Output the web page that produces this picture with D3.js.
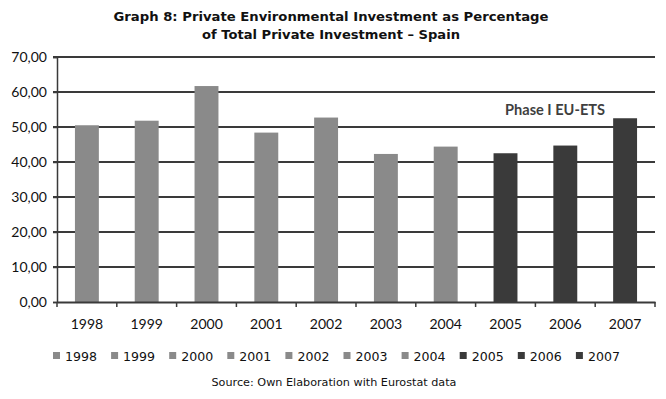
<!DOCTYPE html>
<html>
<head>
<meta charset="utf-8">
<script src="https://cdn.jsdelivr.net/npm/d3@7"></script>
<style>
  html, body { margin: 0; padding: 0; background: #fff; }
  svg { display: block; }
</style>
</head>
<body>
<svg id="chart" width="666" height="399"></svg>
<script>
(function () {
// ---- Data ----
const years = ["1998","1999","2000","2001","2002","2003","2004","2005","2006","2007"];
const values = [50.5, 51.8, 61.7, 48.4, 52.7, 42.3, 44.4, 42.5, 44.7, 52.5];
const phase = ["pre","pre","pre","pre","pre","pre","pre","ets","ets","ets"];
const yTicks = [0, 10, 20, 30, 40, 50, 60, 70];
const titleLines = ["Graph 8: Private Environmental Investment as Percentage", "of Total Private Investment \u2013 Spain"];
const annotation = "Phase I EU-ETS";
const sourceText = "Source: Own Elaboration with Eurostat data";

const colors = { pre: "#8a8a8a", ets: "#3a3a3a" };

const svg = d3.select("#chart");
const mLeft = 57, mRight = 655, mTop = 57, mBottom = 302;

const x = d3.scaleBand().domain(years).range([mLeft, mRight]).paddingInner(0.6).paddingOuter(0.3);
const y = d3.scaleLinear().domain([0, 70]).range([mBottom, mTop]);
const locale = d3.formatLocale({ decimal: ",", thousands: ".", grouping: [3], currency: ["", "€"] });
const fmt = locale.format(".2f");

// Title
svg.selectAll("text.title").data(titleLines).join("text")
  .attr("class", "title")
  .attr("x", 331).attr("y", (d, i) => 20.5 + i * 18)
  .attr("text-anchor", "middle")
  .attr("font-family", "DejaVu Sans").attr("font-weight", "bold").attr("font-size", 12.5)
  .attr("fill", "#111")
  .attr("textLength", (d, i) => i === 0 ? 435 : 258)
  .attr("lengthAdjust", "spacingAndGlyphs")
  .text(d => d);

// Gridlines
svg.append("g")
  .selectAll("line").data(yTicks.filter(t => t > 0)).join("line")
  .attr("x1", mLeft - 4).attr("x2", mRight)
  .attr("y1", d => y(d)).attr("y2", d => y(d))
  .attr("stroke", "#3a3a3a").attr("stroke-width", 2);

// Y axis
const yAxis = svg.append("g").attr("transform", `translate(${mLeft},0)`)
  .call(d3.axisLeft(y).tickValues(yTicks).tickFormat(fmt).tickSize(4).tickPadding(6));
yAxis.select(".domain").attr("stroke", "#3a3a3a").attr("stroke-width", 1.5);
yAxis.selectAll(".tick line").attr("stroke", "#3a3a3a").attr("stroke-width", 1.5);
yAxis.selectAll(".tick text").attr("font-family", "Lato").attr("font-size", 14).attr("fill", "#111");

// Bars
svg.append("g").selectAll("rect").data(years).join("rect")
  .attr("x", d => x(d))
  .attr("width", x.bandwidth())
  .attr("y", (d, i) => y(values[i]))
  .attr("height", (d, i) => y(0) - y(values[i]))
  .attr("fill", (d, i) => colors[phase[i]]);

// X axis
const xAxis = svg.append("g").attr("transform", `translate(0,${mBottom})`)
  .call(d3.axisBottom(x).tickSize(0).tickPadding(17));
xAxis.select(".domain").attr("stroke", "#3a3a3a").attr("stroke-width", 2);
xAxis.selectAll(".tick text").attr("font-family", "Lato").attr("font-size", 14).attr("fill", "#111");
// boundary ticks between categories
const step = x.step();
xAxis.selectAll("line.bt").data(d3.range(years.length + 1)).join("line")
  .attr("class", "bt")
  .attr("x1", i => mLeft + i * step)
  .attr("x2", i => mLeft + i * step)
  .attr("y1", 0).attr("y2", 5)
  .attr("stroke", "#3a3a3a").attr("stroke-width", 1.5);

// Annotation
svg.append("text")
  .attr("x", 505).attr("y", 115)
  .attr("font-family", "Lato").attr("font-weight", "bold").attr("font-size", 16)
  .attr("fill", "#3f3f3f")
  .attr("textLength", 100).attr("lengthAdjust", "spacingAndGlyphs")
  .text(annotation);

// Legend
const legStep = 58.1;
const leg = svg.append("g").selectAll("g").data(years).join("g")
  .attr("transform", (d, i) => `translate(${53 + i * legStep},352)`);
leg.append("rect").attr("width", 7).attr("height", 7)
  .attr("fill", (d, i) => colors[phase[i]]);
leg.append("text").attr("x", 12).attr("y", 9)
  .attr("font-family", "DejaVu Sans").attr("font-size", 13).attr("fill", "#111")
  .attr("textLength", 32).attr("lengthAdjust", "spacingAndGlyphs")
  .text(d => d);

// Source
svg.append("text")
  .attr("x", 334).attr("y", 386).attr("text-anchor", "middle")
  .attr("font-family", "DejaVu Sans").attr("font-size", 11).attr("fill", "#111")
  .attr("textLength", 245).attr("lengthAdjust", "spacingAndGlyphs")
  .text(sourceText);
})();
</script>
</body>
</html>
